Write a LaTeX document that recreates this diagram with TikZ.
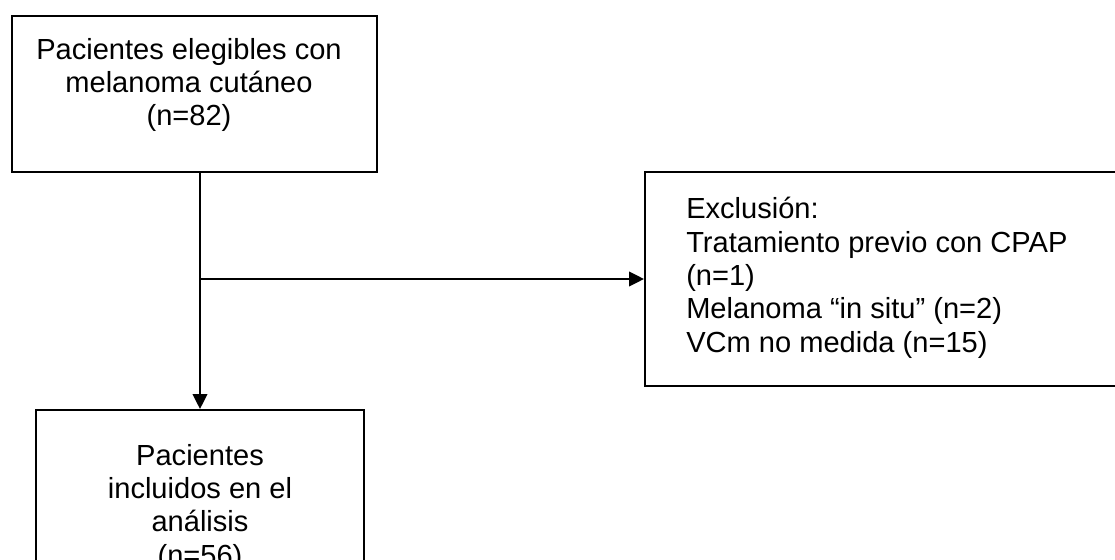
\documentclass[tikz,border=0pt]{standalone}
\usepackage{fontspec}
\setmainfont{Liberation Sans}
\usetikzlibrary{arrows.meta}
\begin{document}
\begin{tikzpicture}[x=0.75pt,y=-0.75pt,
  box/.style={draw,rectangle,line width=1.5pt,inner sep=0pt},
  txt/.style={inner sep=0pt,font=\fontsize{21.8}{25}\selectfont},
  flow/.style={line width=1.5pt,-{Triangle[length=11.25pt,width=11pt]}}]
\clip (0,0) rectangle (1115,560);
% boxes
\node[box,minimum width=273.75pt,minimum height=117pt] (elig) at (194.5,94) {};
\node[box,minimum width=360pt,minimum height=160.5pt] (excl) at (885,279) {};
\node[box,minimum width=246pt,minimum height=123.75pt] (incl) at (200,492.5) {};
% texts
\node[txt,anchor=north,align=center] (eligtxt) at (189,38)
  {Pacientes elegibles con\\melanoma cutáneo\\(n=82)};
\node[txt,anchor=north west,align=left] (excltxt) at (686,197)
  {Exclusión:\\Tratamiento previo con CPAP\\(n=1)\\Melanoma “in situ” (n=2)\\VCm no medida (n=15)};
\node[txt,anchor=north,align=center] (incltxt) at (200,444)
  {Pacientes\\incluidos en el\\análisis\\(n=56)};
% connectors
\coordinate (split) at (200,279);
\draw[flow] (elig.south -| incl.north) -- (incl.north);
\draw[flow] (split) -- (split -| excl.west);
\end{tikzpicture}
\end{document}
